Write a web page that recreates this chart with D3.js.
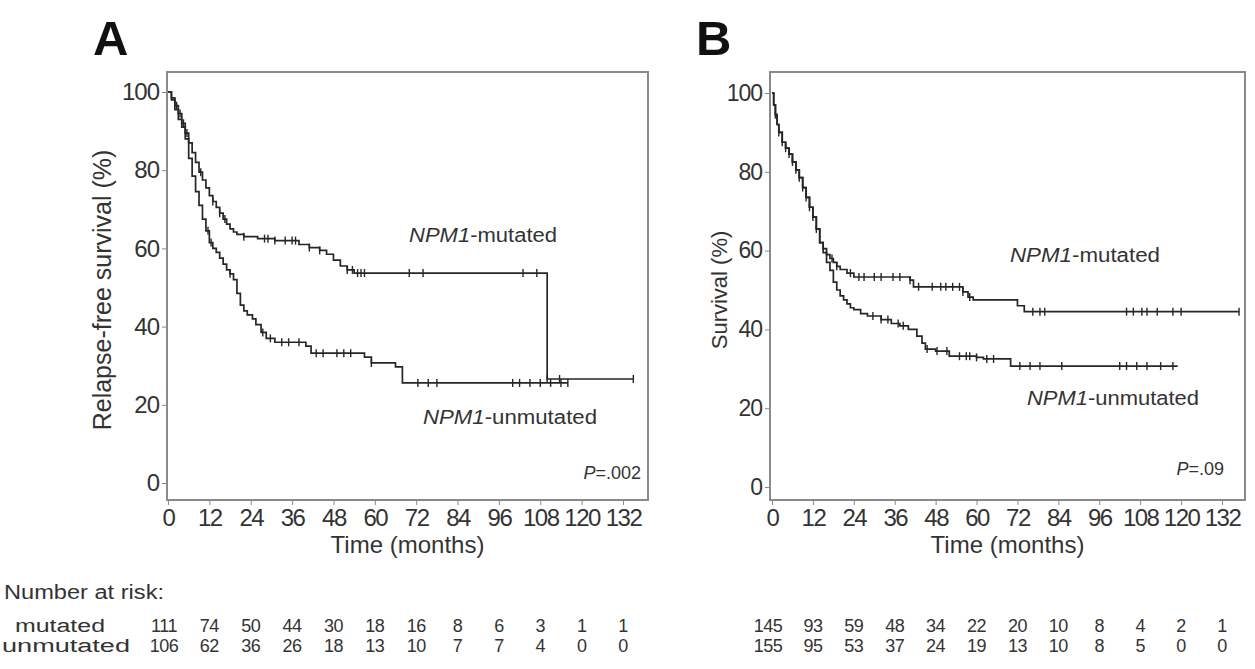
<!DOCTYPE html>
<html><head><meta charset="utf-8">
<script src="https://cdn.jsdelivr.net/npm/d3@7"></script>
<style>
html,body{margin:0;padding:0;background:#fff;}
svg{display:block;font-family:"Liberation Sans",Arial,sans-serif;}
</style></head>
<body>
<svg id="chart" width="1255" height="669"></svg>
<script>
// ---------- data ----------
const monthTicks = [0,12,24,36,48,60,72,84,96,108,120,132];
const survTicks = [0,20,40,60,80,100];

// Panel A: relapse-free survival
const aMutTimes = [0,1,2,3,4,5,6,7,8,9,10,11,12,13,14,15,16,17,18,19,20,22,26,31,38,41,44,46,48,50,52,54,110];
const aMutSurv  = [100,98.5,96.5,94.5,92,89.5,87,84.5,82,79.5,77.5,75.5,73.5,72,70.5,69,67.5,66.2,65,64.2,63.6,63,62.5,62,61,60.2,59.5,58.5,57,55.5,54.5,53.7,26.6];
const aMutEnd = 135;
const aMutCensor = [2.5,3.5,4.5,5.5,9.5,13,15,16.5,22,28,29,31,34,36,37,41,44,52,53.5,55,56,57,70,74,103,107,110,113.6,135];

const aUnmTimes = [0,1,2,3,4,5,6,7,8,9,10,11,12,13,14,15,16,17,18,19,20,21,22,23,24.5,25.5,27,28.5,31,40,41.5,57,59,66,68];
const aUnmSurv  = [100,98,95.5,93,91,88,83,78.5,74.5,71,67.5,64.5,61.5,60,59,57.5,56,54.5,53.5,52,48.5,45.5,44,43,42,40.5,38.5,37,36,35,33.2,32.2,30.7,29.7,25.6];
const aUnmEnd = 116;
const aUnmCensor = [11.6,12.5,18,27.5,29.7,33,35,38,43,45,49,51,53,59,72.5,75.5,78,100,102,105,108,111,114,116];

// Panel B: overall survival
const bMutTimes = [0,0.5,1,1.5,2,3,4,5,6,7,8,9,10,11,12,13,14,15,16,17,18,19,20,22,24,40.5,41.5,56,57.5,59,72,74];
const bMutSurv  = [100,97,94.5,92,90,87.5,86,84.5,82.5,80.5,78.5,76,73.5,71,68.5,65.5,62,60.5,59,58,57,56,55.2,54.3,53.3,52.5,50.8,49.5,48.2,47.5,46,44.5];
const bMutEnd = 137;
const bMutCensor = [1,2,3,4,5,6,7,8,9,10,11,12,13,17.6,19,23,25.5,27,30,32,35.5,37.5,40.5,43,47,49.5,51,53,55,56,58,76.5,78.6,80,104,106,108.5,110,113,117.6,120,137];

const bUnmTimes = [0,0.5,1,1.5,2,3,4,5,6,7,8,9,10,11,12,13,14,15,16,17,18,19,20,21,22,23,24,26,28,32,35,37.5,40,42.5,44,45,48,52,60,62,70];
const bUnmSurv  = [100,97,94.5,92,90,87.5,86,84.5,82.5,80.5,78.5,76,73.5,71,68.5,65.5,62,59.5,57,55,52,50,48.5,47.5,46.5,45.5,45,44,43.4,42.5,41.5,40.9,40,38.3,36.5,35,34.5,33.2,32.9,32.5,30.7];
const bUnmEnd = 119;
const bUnmCensor = [29.6,32,34,37,38.5,45.5,48.4,51.3,55,57,58,60,63,65,72.7,75.7,78.6,85,102,104,107,110,114,117.6];

// number at risk
const riskAMut = [111,74,50,44,30,18,16,8,6,3,1,1];
const riskAUnm = [106,62,36,26,18,13,10,7,7,4,0,0];
const riskBMut = [145,93,59,48,34,22,20,10,8,4,2,1];
const riskBUnm = [155,95,53,37,24,19,13,10,8,5,0,0];

// ---------- drawing ----------
const svg = d3.select("#chart");
const ink = "#262626";
const frameCol = "#8a8a8a";

function stepValue(times, surv, t){
  let v = surv[0];
  for (let i=0;i<times.length;i++){ if (times[i] <= t) v = surv[i]; }
  return v;
}

function panel(cfg){
  const g = svg.append("g");
  const x = d3.scaleLinear().domain([0,132]).range(cfg.xr);
  const y = d3.scaleLinear().domain([0,100]).range(cfg.yr);

  // frame
  g.append("rect").attr("x",cfg.frame[0]).attr("y",cfg.frame[1])
    .attr("width",cfg.frame[2]-cfg.frame[0]).attr("height",cfg.frame[3]-cfg.frame[1])
    .attr("fill","none").attr("stroke",frameCol).attr("stroke-width",2);

  // axes
  const yAxis = g.append("g").attr("transform",`translate(${cfg.frame[0]},0)`)
    .call(d3.axisLeft(y).tickValues(survTicks).tickSize(5).tickPadding(3));
  yAxis.select(".domain").remove();
  yAxis.selectAll("line").attr("stroke",frameCol);
  yAxis.selectAll("text").attr("font-size",cfg.yTickSize).attr("fill","#333").attr("font-family","Liberation Sans, Arial, sans-serif").attr("letter-spacing","-1");

  const xAxis = g.append("g").attr("transform",`translate(0,${cfg.frame[3]})`)
    .call(d3.axisBottom(x).tickValues(monthTicks).tickSize(5).tickPadding(4));
  xAxis.select(".domain").remove();
  xAxis.selectAll("line").attr("stroke",frameCol);
  xAxis.selectAll("text").attr("font-size",24).attr("fill","#333").attr("font-family","Liberation Sans, Arial, sans-serif").attr("letter-spacing","-1.5");

  // axis titles
  g.append("text").attr("x",(cfg.frame[0]+cfg.frame[2])/2).attr("y",553)
    .attr("text-anchor","middle").attr("font-size",24).attr("fill","#333").text("Time (months)");
  g.append("text").attr("transform",`translate(${cfg.ytx},290) rotate(-90)`)
    .attr("text-anchor","middle").attr("font-size",cfg.ytSize).attr("fill","#333").text(cfg.ytitle);

  // panel letter
  g.append("text").attr("x",cfg.letterX).attr("y",55).attr("font-size",49)
    .attr("font-weight","bold").attr("fill","#111").text(cfg.letter);

  // curves
  const line = d3.line().x(d=>x(d[0])).y(d=>y(d[1])).curve(d3.curveStepAfter);
  cfg.curves.forEach(c=>{
    const pts = c.times.map((t,i)=>[t,c.surv[i]]);
    pts.push([c.end, c.surv[c.surv.length-1]]);
    g.append("path").datum(pts).attr("d",line).attr("fill","none")
      .attr("stroke",ink).attr("stroke-width",1.7);
    g.selectAll(null).data(c.censor).enter().append("line")
      .attr("x1",d=>x(d)).attr("x2",d=>x(d))
      .attr("y1",d=>y(stepValue(c.times,c.surv,d))-4)
      .attr("y2",d=>y(stepValue(c.times,c.surv,d))+4)
      .attr("stroke",ink).attr("stroke-width",1.4);
  });

  // curve labels
  cfg.labels.forEach(l=>{
    const t = g.append("text").attr("x",l.x).attr("y",l.y).attr("font-size",20).attr("fill","#333")
      .attr("textLength",l.w).attr("lengthAdjust","spacingAndGlyphs");
    t.append("tspan").attr("font-style","italic").text("NPM1");
    t.append("tspan").text(l.rest);
  });
  const p = g.append("text").attr("x",cfg.pPos[0]).attr("y",cfg.pPos[1]).attr("text-anchor","end")
    .attr("font-size",18).attr("fill","#333");
  p.append("tspan").attr("font-style","italic").text("P");
  p.append("tspan").text(cfg.pText);

  // risk table numbers
  [[cfg.riskMut,632],[cfg.riskUnm,652]].forEach(([arr,yy])=>{
    g.selectAll(null).data(arr).enter().append("text")
      .attr("x",(d,i)=>x(monthTicks[i]) - (i===0?4:0)).attr("y",yy).attr("text-anchor","middle")
      .attr("font-size",18).attr("fill","#333").attr("letter-spacing","-0.5").text(d=>d);
  });
}

panel({
  frame:[167,72,648,500], xr:[168,623], yr:[483,92],
  ytitle:"Relapse-free survival (%)", ytx:111, ytSize:25, yTickSize:24, letter:"A", letterX:93,
  curves:[
    {times:aMutTimes,surv:aMutSurv,end:aMutEnd,censor:aMutCensor},
    {times:aUnmTimes,surv:aUnmSurv,end:aUnmEnd,censor:aUnmCensor}
  ],
  labels:[{x:409,y:242,w:148,rest:"-mutated"},{x:423,y:424,w:174,rest:"-unmutated"}],
  pPos:[641,479], pText:"=.002",
  riskMut:riskAMut, riskUnm:riskAUnm
});

panel({
  frame:[770,72,1245,500], xr:[772,1222], yr:[487,93],
  ytitle:"Survival (%)", ytx:727, ytSize:22, yTickSize:23, letter:"B", letterX:696,
  curves:[
    {times:bMutTimes,surv:bMutSurv,end:bMutEnd,censor:bMutCensor},
    {times:bUnmTimes,surv:bUnmSurv,end:bUnmEnd,censor:bUnmCensor}
  ],
  labels:[{x:1010,y:262,w:150,rest:"-mutated"},{x:1027,y:405,w:172,rest:"-unmutated"}],
  pPos:[1224,475], pText:"=.09",
  riskMut:riskBMut, riskUnm:riskBUnm
});

// risk table row headers
svg.append("text").attr("x",4).attr("y",599).attr("font-size",20).attr("fill","#333")
  .attr("textLength",160).attr("lengthAdjust","spacingAndGlyphs").text("Number at risk:");
svg.append("text").attr("x",15).attr("y",632).attr("font-size",18).attr("fill","#333")
  .attr("textLength",90).attr("lengthAdjust","spacingAndGlyphs").text("mutated");
svg.append("text").attr("x",2).attr("y",652).attr("font-size",18).attr("fill","#333")
  .attr("textLength",128).attr("lengthAdjust","spacingAndGlyphs").text("unmutated");
</script>
</body></html>
